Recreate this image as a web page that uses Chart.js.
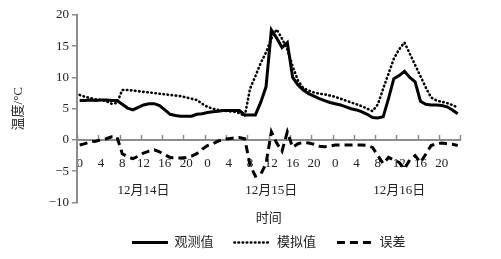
<!DOCTYPE html>
<html>
<head>
<meta charset="utf-8">
<script src="https://cdn.jsdelivr.net/npm/chart.js@4.4.1/dist/chart.umd.min.js"></script>
<style>
  html, body { margin: 0; padding: 0; background: #fff; }
  #wrap { width: 501px; height: 259px; }
</style>
</head>
<body>
<div id="wrap"><canvas id="chart"></canvas></div>
<script>
// heures (3 jours, pas horaire)
const hours = [
  '0','1','2','3','4','5','6','7','8','9','10','11','12','13','14','15','16','17','18','19','20','21','22','23',
  '0','1','2','3','4','5','6','7','8','9','10','11','12','13','14','15','16','17','18','19','20','21','22','23',
  '0','1','2','3','4','5','6','7','8','9','10','11','12','13','14','15','16','17','18','19','20','21','22','23'
];
const days = ['12月14日', '12月15日', '12月16日'];

const observed = [
  6.3, 6.3, 6.4, 6.3, 6.4, 6.4, 6.3, 6.3,
  5.7, 5.1, 4.8, 5.2, 5.6, 5.8, 5.8, 5.5,
  4.8, 4.1, 3.9, 3.8, 3.8, 3.8, 4.1, 4.2,
  4.4, 4.5, 4.6, 4.7, 4.7, 4.7, 4.7, 4.0,
  4.0, 4.0, 6.0, 8.5, 17.6, 16.3, 14.8, 15.6,
  10.0, 8.8, 8.0, 7.4, 7.0, 6.6, 6.3, 6.0,
  5.8, 5.6, 5.3, 5.0, 4.8, 4.5, 4.1, 3.6,
  3.5, 3.7, 6.6, 9.8, 10.3, 11.0, 10.0, 9.3,
  6.2, 5.7, 5.6, 5.6, 5.5, 5.3, 4.8, 4.2
];
const simulated = [
  7.2, 6.9, 6.7, 6.5, 6.4, 6.2, 5.8, 5.9,
  8.0, 8.0, 7.9, 7.8, 7.7, 7.6, 7.5, 7.4,
  7.3, 7.2, 7.1, 7.0, 6.8, 6.6, 6.4, 5.8,
  5.3, 5.0, 4.8, 4.7, 4.6, 4.5, 4.3, 3.8,
  8.2, 10.2, 12.3, 14.0, 16.2, 17.7, 16.2, 14.5,
  11.8, 9.5, 8.3, 7.9, 7.6, 7.4, 7.3, 7.1,
  6.9, 6.6, 6.3, 6.0, 5.7, 5.4, 5.0, 4.6,
  5.7, 8.2, 10.6, 13.0, 14.5, 15.6, 13.8, 12.0,
  10.2, 8.4, 6.8, 6.3, 6.1, 5.9, 5.6, 5.2
];
const errors = [
  -0.8, -0.6, -0.3, -0.2, 0.0, 0.2, 0.5, 0.5,
  -2.2, -2.7, -3.0, -2.6, -2.1, -1.8, -1.6, -1.9,
  -2.4, -2.8, -2.9, -2.9, -2.8, -2.6, -2.2, -1.5,
  -0.9, -0.6, -0.2, 0.1, 0.2, 0.3, 0.4, 0.2,
  -4.0, -5.8, -5.5, -3.8, 1.3, -0.5, -1.8, 1.3,
  -1.2, -0.6, -0.4, -0.5, -0.7, -1.0, -1.1, -1.0,
  -0.8, -0.8, -0.8, -0.8, -0.8, -0.8, -0.9, -1.2,
  -2.5, -3.8, -2.8, -3.2, -3.6, -4.6, -3.2, -2.5,
  -3.6, -2.3, -0.9, -0.6, -0.5, -0.6, -0.7, -0.9
];

const FONT = "'Liberation Serif', 'Noto Sans CJK SC', serif";
const AXIS = '#8c8c8c';
const TEXT = '#222';

// petits traits vers le haut sur l'axe des x (tous les 4 h)
const xTickMarks = {
  id: 'xTickMarks',
  beforeDatasetsDraw(chart) {
    const { ctx, scales: { x, y } } = chart;
    const y0 = y.getPixelForValue(0);
    const step = (x.right - x.left) / hours.length;
    ctx.save();
    ctx.strokeStyle = AXIS;
    ctx.lineWidth = 1.5;
    for (let i = 0; i <= hours.length; i += 4) {
      const px = Math.round(x.left + i * step) + 0.5;
      ctx.beginPath();
      ctx.moveTo(px, y0);
      ctx.lineTo(px, y0 - 5);
      ctx.stroke();
    }
    ctx.restore();
  }
};

document.addEventListener('DOMContentLoaded', () => {
  const ctx = document.getElementById('chart').getContext('2d');

  new Chart(ctx, {
    type: 'line',
    data: {
      labels: hours,
      datasets: [
        {
          label: '观测值',
          data: observed,
          borderColor: '#000',
          borderWidth: 3,
          pointRadius: 0,
          pointStyle: 'line',
          tension: 0
        },
        {
          label: '模拟值',
          data: simulated,
          borderColor: '#000',
          borderWidth: 2.6,
          borderDash: [0.5, 3.6],
          borderCapStyle: 'round',
          pointRadius: 0,
          pointStyle: 'line',
          tension: 0
        },
        {
          label: '误差',
          data: errors,
          borderColor: '#000',
          borderWidth: 3,
          borderDash: [8, 5],
          pointRadius: 0,
          pointStyle: 'line',
          tension: 0
        }
      ]
    },
    options: {
      responsive: true,
      maintainAspectRatio: false,
      animation: false,
      layout: { padding: { top: 15, right: 31, bottom: 0, left: 0 } },
      scales: {
        x: {
          type: 'category',
          position: { y: 0 },
          offset: true,
          grid: { display: false, drawTicks: false },
          border: { display: true, color: AXIS, width: 2 },
          ticks: {
            autoSkip: false,
            maxRotation: 0,
            padding: 16,
            color: TEXT,
            font: { family: FONT, size: 13 },
            callback: (v, i) => (i % 4 === 0 ? hours[i] : '')
          },
          afterFit: (s) => { s.height = 0; }
        },
        x2: {
          type: 'category',
          position: { y: 0 },
          offset: true,
          grid: { display: false, drawTicks: false },
          border: { display: false },
          ticks: {
            autoSkip: false,
            maxRotation: 0,
            padding: 43,
            color: TEXT,
            font: { family: FONT, size: 13 },
            callback: (v, i) => (i % 24 === 12 ? days[(i - 12) / 24] : '')
          },
          afterFit: (s) => { s.height = 0; }
        },
        y: {
          min: -10,
          max: 20,
          ticks: {
            stepSize: 5,
            padding: 3,
            color: TEXT,
            font: { family: FONT, size: 13 },
            callback: (v) => (v < 0 ? '\u2212' + Math.abs(v) : String(v))
          },
          grid: { drawOnChartArea: false, tickLength: 5, color: AXIS, lineWidth: 1.5 },
          border: { color: AXIS, width: 2 },
          title: {
            display: true,
            text: '温度/°C',
            color: TEXT,
            font: { family: FONT, size: 13 },
            padding: { top: 11, bottom: 0 }
          },
          afterFit: (s) => { s.width = 77; }
        }
      },
      plugins: {
        tooltip: { enabled: false },
        title: {
          display: true,
          text: '时间',
          position: 'bottom',
          fullSize: false,
          weight: 500,
          color: TEXT,
          font: { family: FONT, size: 13, weight: 'normal' },
          padding: { top: 8, bottom: 2 }
        },
        legend: {
          position: 'bottom',
          fullSize: false,
          labels: {
            usePointStyle: true,
            pointStyle: 'line',
            pointStyleWidth: 36,
            padding: 8,
            color: TEXT,
            font: { family: FONT, size: 13 },
            generateLabels: (chart) => {
              const items = Chart.defaults.plugins.legend.labels.generateLabels(chart);
              items.forEach((it, i) => {
                const ds = chart.data.datasets[it.datasetIndex];
                it.lineWidth = ds.borderWidth;
                it.lineDash = ds.borderDash || [];
                it.lineCap = ds.borderCapStyle || 'butt';
                if (i < items.length - 1) it.text = it.text + '\u3000';
              });
              return items;
            }
          }
        }
      }
    },
    plugins: [xTickMarks]
  });
});
</script>
</body>
</html>
